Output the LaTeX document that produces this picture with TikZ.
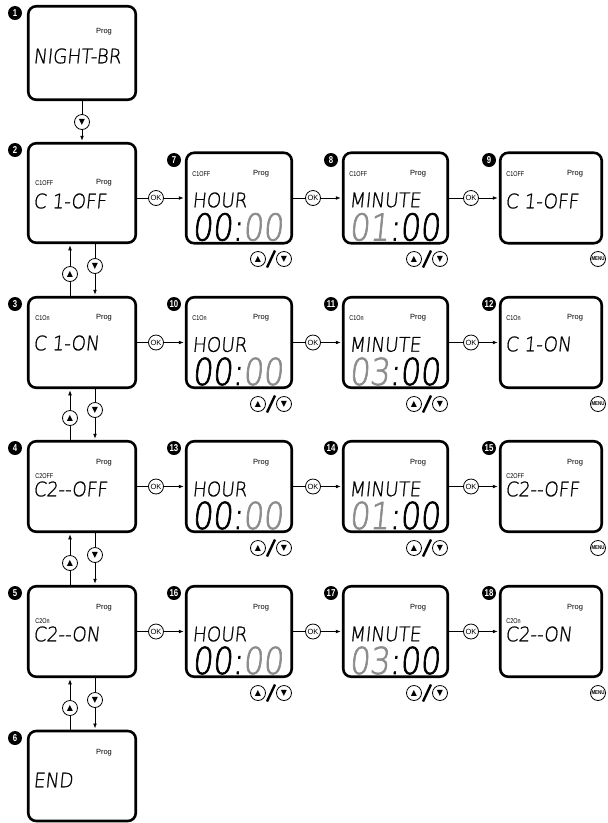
\documentclass[tikz,border=0pt]{standalone}
\usepackage{fontspec}
\setmainfont{Liberation Sans}
\newfontfamily\narrowfont[FakeStretch=0.78]{Liberation Sans}
\newfontfamily\lcdfont[FakeSlant=0.1,FakeStretch=0.92,FakeBold=1]{DejaVu Sans ExtraLight}
\newfontfamily\segfont[FakeSlant=0.1,FakeStretch=0.85,FakeBold=1.8]{DejaVu Sans ExtraLight}
\newfontfamily\symfont{DejaVu Sans}
\usetikzlibrary{arrows.meta,calc}
\begin{document}
\begin{tikzpicture}[x=1pt,y=-1pt,line width=0.7pt,>={Latex[length=5pt,width=3.8pt]},
		screen/.style={draw,line width=2.6pt,rounded corners=8pt,inner sep=0pt,minimum height=90.5pt},
		badge/.style={circle,fill=black,text=white,inner sep=0.3pt,minimum size=14pt,font=\narrowfont\bfseries\fontsize{10}{10}\selectfont},
		key/.style={circle,draw,fill=white,line width=0.8pt,inner sep=0pt,minimum size=15pt,font=\fontsize{7.5}{7.5}\selectfont},
		arr/.style={key,font=\symfont\fontsize{8}{8}\selectfont},
		menu/.style={key,font=\narrowfont\bfseries\fontsize{5.6}{5.6}\selectfont},
		tag/.style={anchor=west,inner sep=0pt,font=\narrowfont\fontsize{7}{7}\selectfont},
		prog/.style={inner sep=0pt,font=\fontsize{7.5}{7.5}\selectfont},
		word/.style={anchor=west,inner sep=0pt,font=\lcdfont\fontsize{20}{20}\selectfont},
		time/.style={anchor=west,inner sep=0pt,font=\segfont\fontsize{37}{37}\selectfont},
		go/.style={->,shorten >=1.2pt},
		slash/.style={line width=2.4pt}]
	\useasboundingbox (0,0) rectangle (608,823);

	\node (S1)  at (82,53)     [screen,minimum width=107.5pt,minimum height=93.5pt] {};
	\node (S2)  at (82,193)    [screen,minimum width=107.5pt,minimum height=99.5pt] {};
	\node (S3)  at (82,342.5)  [screen,minimum width=107.5pt] {};
	\node (S4)  at (82,486.5)  [screen,minimum width=107.5pt] {};
	\node (S5)  at (82,631.5)  [screen,minimum width=107.5pt] {};
	\node (S6)  at (82,776)    [screen,minimum width=107.5pt,minimum height=90pt] {};
	\node (S7)  at (239,198)   [screen,minimum width=105.5pt] {};
	\node (S8)  at (395.5,198) [screen,minimum width=104.5pt] {};
	\node (S9)  at (551,198)   [screen,minimum width=101.5pt] {};
	\node (S10) at (239,342.5)   [screen,minimum width=105.5pt] {};
	\node (S11) at (395.5,342.5) [screen,minimum width=104.5pt] {};
	\node (S12) at (551,342.5)   [screen,minimum width=101.5pt] {};
	\node (S13) at (239,486.5)   [screen,minimum width=105.5pt] {};
	\node (S14) at (395.5,486.5) [screen,minimum width=104.5pt] {};
	\node (S15) at (551,486.5)   [screen,minimum width=101.5pt] {};
	\node (S16) at (239,631.5)   [screen,minimum width=105.5pt] {};
	\node (S17) at (395.5,631.5) [screen,minimum width=104.5pt] {};
	\node (S18) at (551,631.5)   [screen,minimum width=101.5pt] {};

	\node (b1)  at (15,13)   [badge] {1};
	\node (b2)  at (15,150)  [badge] {2};
	\node (b3)  at (15,304)  [badge] {3};
	\node (b4)  at (15,448)  [badge] {4};
	\node (b5)  at (15,593)  [badge] {5};
	\node (b6)  at (15,738)  [badge] {6};
	\node (b7)  at (174,160) [badge] {7};
	\node (b8)  at (331,160) [badge] {8};
	\node (b9)  at (489,160) [badge] {9};
	\node (b10) at (174,304) [badge] {10};
	\node (b11) at (331,304) [badge] {11};
	\node (b12) at (489,304) [badge] {12};
	\node (b13) at (174,448) [badge] {13};
	\node (b14) at (331,448) [badge] {14};
	\node (b15) at (489,448) [badge] {15};
	\node (b16) at (174,593) [badge] {16};
	\node (b17) at (331,593) [badge] {17};
	\node (b18) at (489,593) [badge] {18};

	\node (p1) at (104,32) [prog] {Prog};
	\node (w1) at (33,56)  [word] {NIGHT-BR};
	\node (c2) at (35,183) [tag]  {C1OFF};
	\node (p2) at (104,183) [prog] {Prog};
	\node (w2) at (33,201) [word] {C 1-OFF};
	\node (c3) at (35,318) [tag]  {C1On};
	\node (p3) at (104,318) [prog] {Prog};
	\node (w3) at (33,343) [word] {C 1-ON};
	\node (p4) at (104,463) [prog] {Prog};
	\node (c4) at (35,476) [tag]  {C2OFF};
	\node (w4) at (33,489) [word] {C2--OFF};
	\node (p5) at (104,608) [prog] {Prog};
	\node (c5) at (35,621) [tag]  {C2On};
	\node (w5) at (33,634) [word] {C2--ON};
	\node (p6) at (104,753) [prog] {Prog};
	\node (w6) at (33,780) [word] {END};

	\node (c7) at (192,174) [tag]  {C1OFF};
	\node (p7) at (261,174) [prog] {Prog};
	\node (w7) at (192,200) [word] {HOUR};
	\node (n7) at (192,227) [time] {00:{\color{black!45}00}};
	\node (c8) at (349,174) [tag]  {C1OFF};
	\node (p8) at (418,174) [prog] {Prog};
	\node (w8) at (349,200) [word] {MINUTE};
	\node (n8) at (349,227) [time] {{\color{black!45}01}:00};
	\node (c9) at (506,174) [tag]  {C1OFF};
	\node (p9) at (575,174) [prog] {Prog};
	\node (w9) at (505,201) [word] {C 1-OFF};

	\node (c10) at (192,318) [tag]  {C1On};
	\node (p10) at (261,318) [prog] {Prog};
	\node (w10) at (192,344.5) [word] {HOUR};
	\node (n10) at (192,371.5) [time] {00:{\color{black!45}00}};
	\node (c11) at (349,318) [tag]  {C1On};
	\node (p11) at (418,318) [prog] {Prog};
	\node (w11) at (349,344.5) [word] {MINUTE};
	\node (n11) at (349,371.5) [time] {{\color{black!45}03}:00};
	\node (c12) at (506,318) [tag]  {C1On};
	\node (p12) at (575,318) [prog] {Prog};
	\node (w12) at (505,344) [word] {C 1-ON};

	\node (p13) at (261,463) [prog] {Prog};
	\node (w13) at (192,489) [word] {HOUR};
	\node (n13) at (192,515.5) [time] {00:{\color{black!45}00}};
	\node (p14) at (418,463) [prog] {Prog};
	\node (w14) at (349,489) [word] {MINUTE};
	\node (n14) at (349,515.5) [time] {{\color{black!45}01}:00};
	\node (p15) at (575,463) [prog] {Prog};
	\node (c15) at (506,476) [tag]  {C2OFF};
	\node (w15) at (505,489) [word] {C2--OFF};

	\node (p16) at (261,608) [prog] {Prog};
	\node (w16) at (192,634) [word] {HOUR};
	\node (n16) at (192,660.5) [time] {00:{\color{black!45}00}};
	\node (p17) at (418,608) [prog] {Prog};
	\node (w17) at (349,634) [word] {MINUTE};
	\node (n17) at (349,660.5) [time] {{\color{black!45}03}:00};
	\node (p18) at (575,608) [prog] {Prog};
	\node (c18) at (506,621) [tag]  {C2On};
	\node (w18) at (505,634) [word] {C2--ON};

	\node (D1) at (82,122) [arr] {▼} edge (S1);
	\draw [go] (D1) -- (S2);

	\node (D23) at (95,266) [arr] {▼};
	\node (U23) at (70,274) [arr] {▲};
	\node (D34) at (95,410) [arr] {▼};
	\node (U34) at (70,418) [arr] {▲};
	\node (D45) at (95,555) [arr] {▼};
	\node (U45) at (70,563) [arr] {▲};
	\node (D56) at (95,700) [arr] {▼};
	\node (U56) at (70,708) [arr] {▲};
	\draw (D23 |- S2.south) -- (D23);  \draw [go] (D23) -- (D23 |- S3.north);
	\draw (U23 |- S3.north) -- (U23);  \draw [go] (U23) -- (U23 |- S2.south);
	\draw (D34 |- S3.south) -- (D34);  \draw [go] (D34) -- (D34 |- S4.north);
	\draw (U34 |- S4.north) -- (U34);  \draw [go] (U34) -- (U34 |- S3.south);
	\draw (D45 |- S4.south) -- (D45);  \draw [go] (D45) -- (D45 |- S5.north);
	\draw (U45 |- S5.north) -- (U45);  \draw [go] (U45) -- (U45 |- S4.south);
	\draw (D56 |- S5.south) -- (D56);  \draw [go] (D56) -- (D56 |- S6.north);
	\draw (U56 |- S6.north) -- (U56);  \draw [go] (U56) -- (U56 |- S5.south);

	\node (O2)  at (156,198)   [key] {OK};
	\node (O7)  at (313,198)   [key] {OK};
	\node (O8)  at (471,198)   [key] {OK};
	\node (O3)  at (156,342.5) [key] {OK};
	\node (O10) at (313,342.5) [key] {OK};
	\node (O11) at (471,342.5) [key] {OK};
	\node (O4)  at (156,486.5) [key] {OK};
	\node (O13) at (313,486.5) [key] {OK};
	\node (O14) at (471,486.5) [key] {OK};
	\node (O5)  at (156,631.5) [key] {OK};
	\node (O16) at (313,631.5) [key] {OK};
	\node (O17) at (471,631.5) [key] {OK};
	\draw (O2 -| S2.east) -- (O2);    \draw [go] (O2) -- (O2 -| S7.west);
	\draw (O7 -| S7.east) -- (O7);    \draw [go] (O7) -- (O7 -| S8.west);
	\draw (O8 -| S8.east) -- (O8);    \draw [go] (O8) -- (O8 -| S9.west);
	\draw (O3 -| S3.east) -- (O3);    \draw [go] (O3) -- (O3 -| S10.west);
	\draw (O10 -| S10.east) -- (O10); \draw [go] (O10) -- (O10 -| S11.west);
	\draw (O11 -| S11.east) -- (O11); \draw [go] (O11) -- (O11 -| S12.west);
	\draw (O4 -| S4.east) -- (O4);    \draw [go] (O4) -- (O4 -| S13.west);
	\draw (O13 -| S13.east) -- (O13); \draw [go] (O13) -- (O13 -| S14.west);
	\draw (O14 -| S14.east) -- (O14); \draw [go] (O14) -- (O14 -| S15.west);
	\draw (O5 -| S5.east) -- (O5);    \draw [go] (O5) -- (O5 -| S16.west);
	\draw (O16 -| S16.east) -- (O16); \draw [go] (O16) -- (O16 -| S17.west);
	\draw (O17 -| S17.east) -- (O17); \draw [go] (O17) -- (O17 -| S18.west);

	\node (U7)  at (258,259) [arr] {▲};  \node (D7)  at (284,259) [arr] {▼};
	\node (U8)  at (414,259) [arr] {▲};  \node (D8)  at (440,259) [arr] {▼};
	\node (U10) at (258,404) [arr] {▲};  \node (D10) at (284,404) [arr] {▼};
	\node (U11) at (414,404) [arr] {▲};  \node (D11) at (440,404) [arr] {▼};
	\node (U13) at (258,548) [arr] {▲};  \node (D13) at (284,548) [arr] {▼};
	\node (U14) at (414,548) [arr] {▲};  \node (D14) at (440,548) [arr] {▼};
	\node (U16) at (258,693) [arr] {▲};  \node (D16) at (284,693) [arr] {▼};
	\node (U17) at (414,693) [arr] {▲};  \node (D17) at (440,693) [arr] {▼};
	\draw [slash] ($(U7)!.5!(D7)+(-4,8.5)$) -- ($(U7)!.5!(D7)+(4,-8.5)$);
	\draw [slash] ($(U8)!.5!(D8)+(-4,8.5)$) -- ($(U8)!.5!(D8)+(4,-8.5)$);
	\draw [slash] ($(U10)!.5!(D10)+(-4,8.5)$) -- ($(U10)!.5!(D10)+(4,-8.5)$);
	\draw [slash] ($(U11)!.5!(D11)+(-4,8.5)$) -- ($(U11)!.5!(D11)+(4,-8.5)$);
	\draw [slash] ($(U13)!.5!(D13)+(-4,8.5)$) -- ($(U13)!.5!(D13)+(4,-8.5)$);
	\draw [slash] ($(U14)!.5!(D14)+(-4,8.5)$) -- ($(U14)!.5!(D14)+(4,-8.5)$);
	\draw [slash] ($(U16)!.5!(D16)+(-4,8.5)$) -- ($(U16)!.5!(D16)+(4,-8.5)$);
	\draw [slash] ($(U17)!.5!(D17)+(-4,8.5)$) -- ($(U17)!.5!(D17)+(4,-8.5)$);

	\node (M9)  at (598,259) [menu] {MENU};
	\node (M12) at (598,404) [menu] {MENU};
	\node (M15) at (598,548) [menu] {MENU};
	\node (M18) at (598,693) [menu] {MENU};
\end{tikzpicture}
\end{document}
